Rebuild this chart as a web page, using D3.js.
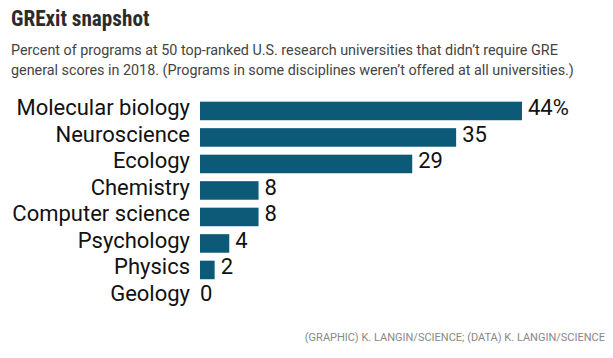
<!DOCTYPE html>
<html>
<head>
<meta charset="utf-8">
<script src="https://cdn.jsdelivr.net/npm/d3@7"></script>
<style>
  body { margin: 0; background: #fff; }
  svg { display: block; }
</style>
</head>
<body>
<div id="chart"></div>
<script>
// data
const disciplines = ["Molecular biology", "Neuroscience", "Ecology", "Chemistry",
  "Computer science", "Psychology", "Physics", "Geology"]
const pctNoGre = [44, 35, 29, 8, 8, 4, 2, 0]

const title = "GRExit snapshot"
const subtitleLines = [
  "Percent of programs at 50 top-ranked U.S. research universities that didn\u2019t require GRE",
  "general scores in 2018. (Programs in some disciplines weren\u2019t offered at all universities.)"
]
const credit = "(GRAPHIC) K. LANGIN/SCIENCE; (DATA) K. LANGIN/SCIENCE"

function drawChart() {
  const width = 613
  const height = 358

  const rows = disciplines.map((name, i) => ({ name: name, value: pctNoGre[i] }))

  const svg = d3.select("#chart")
    .append("svg")
      .attr("width", width)
      .attr("height", height)

  // header
  svg.append("text")
    .attr("x", 11)
    .attr("y", 26)
    .attr("font-family", "'Liberation Sans Narrow', 'Roboto Condensed', Roboto, sans-serif")
    .attr("font-weight", "bold")
    .attr("font-size", 21.2)
    .attr("fill", "#2b2b2b")
    .text(title)

  svg.append("g").selectAll("text")
    .data(subtitleLines)
    .join("text")
      .attr("x", 11)
      .attr("y", (d, i) => 55 + i * 20)
      .attr("font-family", "Roboto, sans-serif")
      .attr("font-size", 14.35)
      .attr("fill", "#444")
      .text(d => d)

  // scales
  const x = d3.scaleLinear()
    .domain([0, 44])
    .range([200, 522])

  const y = d3.scaleBand()
    .domain(disciplines)
    .range([97.7, 309.7])
    .paddingInner(0.3)
    .paddingOuter(0.15)

  // bars
  const barGroup = svg.append("g")
  barGroup.selectAll("rect")
    .data(rows)
    .join("rect")
      .attr("x", x(0))
      .attr("y", d => y(d.name))
      .attr("width", d => x(d.value) - x(0))
      .attr("height", y.bandwidth())
      .attr("fill", "#0c5a78")

  // category labels
  svg.append("g").selectAll("text")
    .data(rows)
    .join("text")
      .attr("x", 190)
      .attr("y", d => y(d.name) + y.bandwidth() / 2)
      .attr("dy", "0.2em")
      .attr("text-anchor", "end")
      .attr("font-family", "Roboto, sans-serif")
      .attr("font-size", 22)
      .attr("fill", "#111")
      .text(d => d.name)

  // value labels
  svg.append("g").selectAll("text")
    .data(rows)
    .join("text")
      .attr("x", d => x(d.value) + (d.value > 0 ? 6 : 0))
      .attr("y", d => y(d.name) + y.bandwidth() / 2)
      .attr("dy", "0.2em")
      .attr("font-family", "Roboto, sans-serif")
      .attr("font-size", 22)
      .attr("fill", "#111")
      .text((d, i) => i == 0 ? d.value + "%" : d.value)

  // credit line
  svg.append("text")
    .attr("x", 605)
    .attr("y", 341)
    .attr("text-anchor", "end")
    .attr("font-family", "Roboto, sans-serif")
    .attr("font-size", 11)
    .attr("fill", "#888")
    .text(credit)
}

window.onload = function () {
  drawChart()
}
</script>
</body>
</html>
